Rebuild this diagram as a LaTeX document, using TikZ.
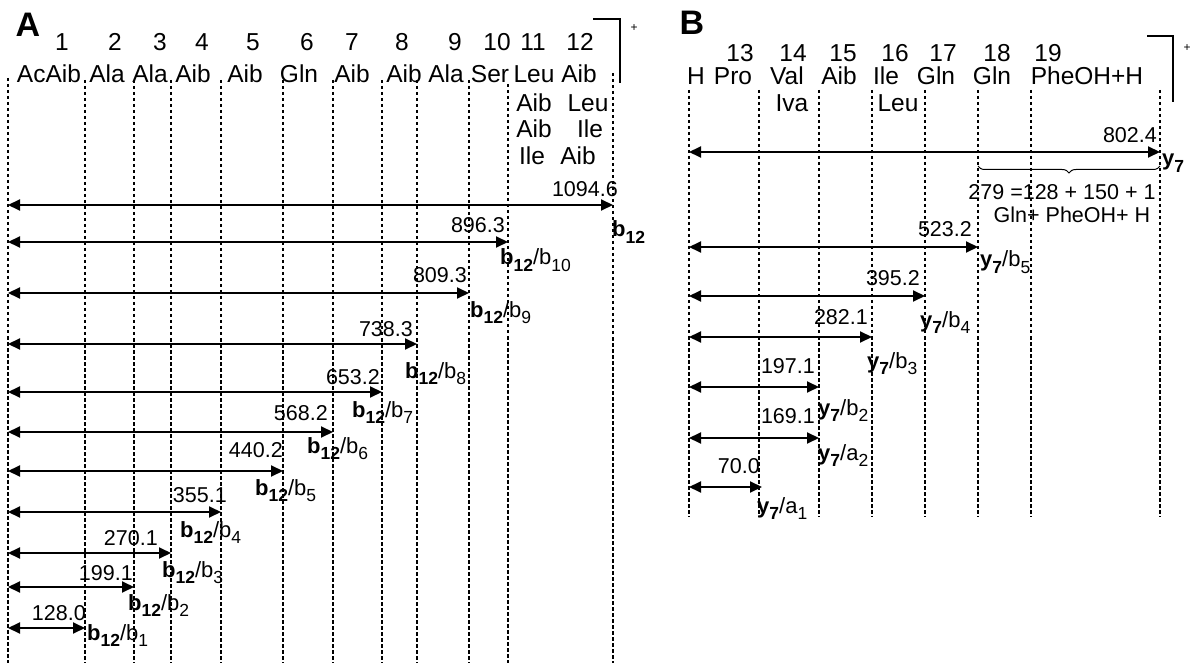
\documentclass[tikz,border=0pt]{standalone}
\usepackage{fontspec}
\setmainfont{Liberation Sans}
\usetikzlibrary{arrows.meta,decorations.pathreplacing}
\newcommand\lowsub[1]{\raisebox{-6.5pt}{\fontsize{17.5}{18}\selectfont #1}}
\newcommand\bIon[1]{\textbf{b}\lowsub{\textbf{12}}/b\lowsub{#1}}
\newcommand\yIon[2]{\textbf{y}\lowsub{\textbf{7}}/#1\lowsub{#2}}
\begin{document}
\begin{tikzpicture}[x=1pt,y=-1pt,
  vline/.style={line width=1.3pt, dash pattern=on 3.5pt off 2.5pt},
  frag/.style={line width=2pt, {Triangle[length=12pt,width=11pt]}-{Triangle[length=12pt,width=11pt]}},
  res/.style={font=\fontsize{24.5}{28}\selectfont, anchor=base, inner sep=0pt},
  num/.style={font=\fontsize{21.5}{25}\selectfont, anchor=base east, inner sep=0pt},
  ion/.style={font=\fontsize{22}{25}\selectfont, anchor=base west, inner sep=0pt},
  panel/.style={font=\fontsize{34}{36}\selectfont\bfseries, anchor=base, inner sep=0pt},
  charge/.style={font=\fontsize{12}{14}\selectfont, inner sep=0pt},
  small/.style={font=\fontsize{21.5}{24}\selectfont, anchor=base, inner sep=0pt},
  brk/.style={line width=1.5pt}]
\useasboundingbox (0,0) rectangle (1195,663);

% ---------------- Panel A ----------------
\node[panel] (pA) at (28,37) {A};
\foreach \n/\x in {1/62,2/115,3/160,4/202,5/253,6/307,7/352,8/402,9/455,10/497,11/533,12/580}
  \node[res] (nA\n) at (\x,51) {\n};
\foreach \i/\t/\x in {1/AcAib/49,2/Ala/107,3/Ala/150,4/Aib/193,5/Aib/245,6/Gln/299,7/Aib/352,8/Aib/404,9/Ala/446,10/Ser/490,11/Leu/534,12/Aib/579}
  \node[res] (rA\i) at (\x,83) {\t};
\node[res] (rA11b) at (534,112) {Aib};
\node[res] (rA11c) at (534,138) {Aib};
\node[res] (rA11d) at (532,165) {Ile};
\node[res] (rA12b) at (588,112) {Leu};
\node[res] (rA12c) at (590,138) {Ile};
\node[res] (rA12d) at (578,165) {Aib};

\foreach \i/\x/\t in {0/8/78,1/85/80,2/134/80,3/171/80,4/221/80,5/283/80,6/333/80,7/382/80,8/417/80,9/469/80,10/508/84,11/613/73}{
  \coordinate (A\i t) at (\x,\t);
  \coordinate (A\i b) at (\x,663);
  \draw[vline] (A\i t) -- (A\i b);
}
\coordinate (bkA1) at (593,19);
\coordinate (bkA2) at (620,19);
\coordinate (bkA3) at (620,83);
\draw[brk] (bkA1) -- (bkA2) -- (bkA3);
\node[charge] (chA) at (634,28) {+};

% fragment arrows A
\coordinate (fA1s) at (8,205);  \coordinate (fA1e) at (613,205);
\coordinate (fA2s) at (8,242);  \coordinate (fA2e) at (508,242);
\coordinate (fA3s) at (8,293);  \coordinate (fA3e) at (469,293);
\coordinate (fA4s) at (8,344);  \coordinate (fA4e) at (417,344);
\coordinate (fA5s) at (8,392);  \coordinate (fA5e) at (382,392);
\coordinate (fA6s) at (8,432);  \coordinate (fA6e) at (333,432);
\coordinate (fA7s) at (8,471);  \coordinate (fA7e) at (283,471);
\coordinate (fA8s) at (8,512);  \coordinate (fA8e) at (221,512);
\coordinate (fA9s) at (8,553);  \coordinate (fA9e) at (171,553);
\coordinate (fA10s) at (8,587); \coordinate (fA10e) at (134,587);
\coordinate (fA11s) at (8,628); \coordinate (fA11e) at (85,628);
\foreach \i in {1,...,11} \draw[frag] (fA\i s) -- (fA\i e);

\node[num] (mA1) at (618,197) {1094.6};
\node[num] (mA2) at (505,233) {896.3};
\node[num] (mA3) at (467,283) {809.3};
\node[num] (mA4) at (413,337) {738.3};
\node[num] (mA5) at (380,384) {653.2};
\node[num] (mA6) at (328,420) {568.2};
\node[num] (mA7) at (283,457) {440.2};
\node[num] (mA8) at (227,502) {355.1};
\node[num] (mA9) at (158,545) {270.1};
\node[num] (mA10) at (133,580) {199.1};
\node[num] (mA11) at (86,620) {128.0};

\node[ion] (iA1) at (612,237) {\textbf{b}\lowsub{\textbf{12}}};
\node[ion] (iA2) at (500,265) {\bIon{10}};
\node[ion] (iA3) at (470,317) {\bIon{9}};
\node[ion] (iA4) at (405,378) {\bIon{8}};
\node[ion] (iA5) at (352,417) {\bIon{7}};
\node[ion] (iA6) at (307,453) {\bIon{6}};
\node[ion] (iA7) at (255,495) {\bIon{5}};
\node[ion] (iA8) at (180,537) {\bIon{4}};
\node[ion] (iA9) at (162,577) {\bIon{3}};
\node[ion] (iA10) at (128,610) {\bIon{2}};
\node[ion] (iA11) at (87,640) {\bIon{1}};

% ---------------- Panel B ----------------
\node[panel] (pB) at (692,35) {B};
\foreach \n/\x in {13/740,14/793,15/843,16/895,17/943,18/997,19/1048}
  \node[res] (nB\n) at (\x,62) {\n};
\foreach \i/\t/\x in {0/H/696,1/Pro/733,2/Val/787,3/Aib/839,4/Ile/886,5/Gln/936,6/Gln/992,7/PheOH+H/1087}
  \node[res] (rB\i) at (\x,85) {\t};
\node[res] (rB2b) at (792,112) {Iva};
\node[res] (rB4b) at (898,112) {Leu};

\foreach \i/\x in {0/689,1/759,2/819,3/872,4/925,5/978,6/1031,7/1160}{
  \coordinate (B\i t) at (\x,90);
  \coordinate (B\i b) at (\x,517);
  \draw[vline] (B\i t) -- (B\i b);
}
\coordinate (bkB1) at (1147,36);
\coordinate (bkB2) at (1173,36);
\coordinate (bkB3) at (1173,102);
\draw[brk] (bkB1) -- (bkB2) -- (bkB3);
\node[charge] (chB) at (1187,48) {+};

\coordinate (fB1s) at (689,152); \coordinate (fB1e) at (1160,152);
\coordinate (fB2s) at (689,247); \coordinate (fB2e) at (978,247);
\coordinate (fB3s) at (689,296); \coordinate (fB3e) at (925,296);
\coordinate (fB4s) at (689,337); \coordinate (fB4e) at (872,337);
\coordinate (fB5s) at (689,387); \coordinate (fB5e) at (819,387);
\coordinate (fB6s) at (689,438); \coordinate (fB6e) at (819,438);
\coordinate (fB7s) at (689,487); \coordinate (fB7e) at (762,487);
\foreach \i in {1,...,7} \draw[frag] (fB\i s) -- (fB\i e);

\node[num] (mB1) at (1157,143) {802.4};
\node[num] (mB2) at (972,237) {523.2};
\node[num] (mB3) at (920,286) {395.2};
\node[num] (mB4) at (868,325) {282.1};
\node[num] (mB5) at (815,373) {197.1};
\node[num] (mB6) at (815,423) {169.1};
\node[num] (mB7) at (760,473) {70.0};

\node[ion] (iB1) at (1162,166) {\textbf{y}\lowsub{\textbf{7}}};
\node[ion] (iB2) at (980,267) {\yIon{b}{5}};
\node[ion] (iB3) at (920,327) {\yIon{b}{4}};
\node[ion] (iB4) at (867,368) {\yIon{b}{3}};
\node[ion] (iB5) at (818,415) {\yIon{b}{2}};
\node[ion] (iB6) at (818,460) {\yIon{a}{2}};
\node[ion] (iB7) at (757,513) {\yIon{a}{1}};

\coordinate (brS) at (978,166);
\coordinate (brE) at (1160,166);
\draw[line width=1pt, decorate, decoration={brace, mirror, amplitude=7pt}] (brS) -- (brE);
\node[small] (sum) at (1062,200) {279 =128 + 150 + 1};
\node[small] (sumt) at (1072,223) {Gln+ PheOH+ H};
\end{tikzpicture}
\end{document}
